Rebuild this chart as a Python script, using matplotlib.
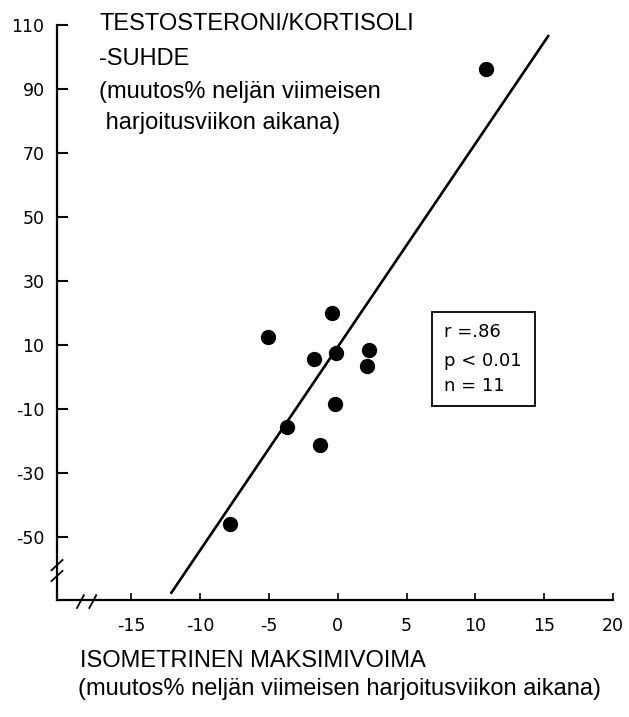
import matplotlib
matplotlib.use('Agg')
import matplotlib.pyplot as plt
from matplotlib import font_manager
from matplotlib.patches import Rectangle

# muutos-% neljän viimeisen harjoitusviikon aikana
voima = [-0.4, -5.1, -1.7, -0.1, 2.3, 2.1, -0.2, -3.7, -1.3, -7.8, 10.8]
tk_suhde = [20.0, 12.5, 5.6, 7.5, 8.4, 3.4, -8.4, -15.6, -21.3, -45.9, 96.3]

# regressiosuoran päätepisteet
suora_x = [-12.1, 15.3]
suora_y = [-67.5, 106.6]

x_ticks = [-15, -10, -5, 0, 5, 10, 15, 20]
x_labels = ['-15', '-10', '-5', '0', '5', '10', '15', '20']
y_ticks = [110, 90, 70, 50, 30, 10, -10, -30, -50]
y_labels = ['110', '90', '70', '50', '30', '10', '-10', '-30', '-50']

stats = ['r =.86', 'p < 0.01', 'n = 11']


def font_or(name, fallback):
    try:
        font_manager.findfont(name, fallback_to_default=False)
        return name
    except ValueError:
        return fallback


narrow = font_or('Liberation Sans Narrow', 'DejaVu Sans')
sans = font_or('Liberation Sans', 'DejaVu Sans')

W, H = 629, 717
fig = plt.figure(figsize=(W / 100, H / 100), dpi=100)
ax = fig.add_axes([57 / W, 117 / H, 556 / W, 575 / H])

ax.set_xlim(-20.4, 20)
ax.set_ylim(-69.7, 110)

ax.plot(suora_x, suora_y, color='black', lw=1.9, solid_capstyle='round')
ax.plot(voima, tk_suhde, 'o', color='black', ms=10, mec='black')

for s in ['top', 'right']:
    ax.spines[s].set_visible(False)
for s in ['left', 'bottom']:
    ax.spines[s].set_linewidth(1.6)

ax.set_xticks(x_ticks)
ax.set_xticklabels(x_labels, family=narrow, fontsize=12.5)
ax.set_yticks(y_ticks)
ax.set_yticklabels(y_labels, family=narrow, fontsize=12.5)
ax.tick_params(axis='y', direction='in', length=8, width=1.5, pad=9)
ax.tick_params(axis='x', direction='in', length=5, width=1.2, pad=12)

# katkomerkit akseleille
ax.plot([-18.5, -17.7], [-69.7, -69.7], color='white', lw=2.5, clip_on=False)
for x0 in [-18.7, -17.8]:
    ax.plot([x0 - 0.25, x0 + 0.25], [-72.2, -68.2], color='black', lw=1.3,
            clip_on=False)
for y0 in [-58.8, -62.2]:
    ax.plot([-20.8, -20.0], [y0 - 1.6, y0 + 1.6], color='black', lw=1.3,
            clip_on=False)

# tilastolaatikko
ax.add_patch(Rectangle((0.6745, 0.3374), 0.185, 0.1635, transform=ax.transAxes,
                       fill=False, lw=1.3, ec='black'))
for txt, yy in zip(stats, [0.466, 0.416, 0.372]):
    ax.text(0.696, yy, txt, transform=ax.transAxes, family=narrow,
            fontsize=13, va='center', ha='left')

# akseliotsikot
ylab = ['TESTOSTERONI/KORTISOLI', '-SUHDE', '(muutos% neljän viimeisen',
        ' harjoitusviikon aikana)']
for txt, yp in zip(ylab, [24, 59, 92, 123]):
    fig.text(99 / W, 1 - yp / H, txt, family=sans, fontsize=17,
             va='center', ha='left')

fig.text(80 / W, 1 - 661 / H, 'ISOMETRINEN MAKSIMIVOIMA', family=sans,
         fontsize=17, va='center', ha='left')
fig.text(78 / W, 1 - 689 / H,
         '(muutos% neljän viimeisen harjoitusviikon aikana)', family=sans,
         fontsize=17, va='center', ha='left')

fig.savefig('out.png', dpi=100)
